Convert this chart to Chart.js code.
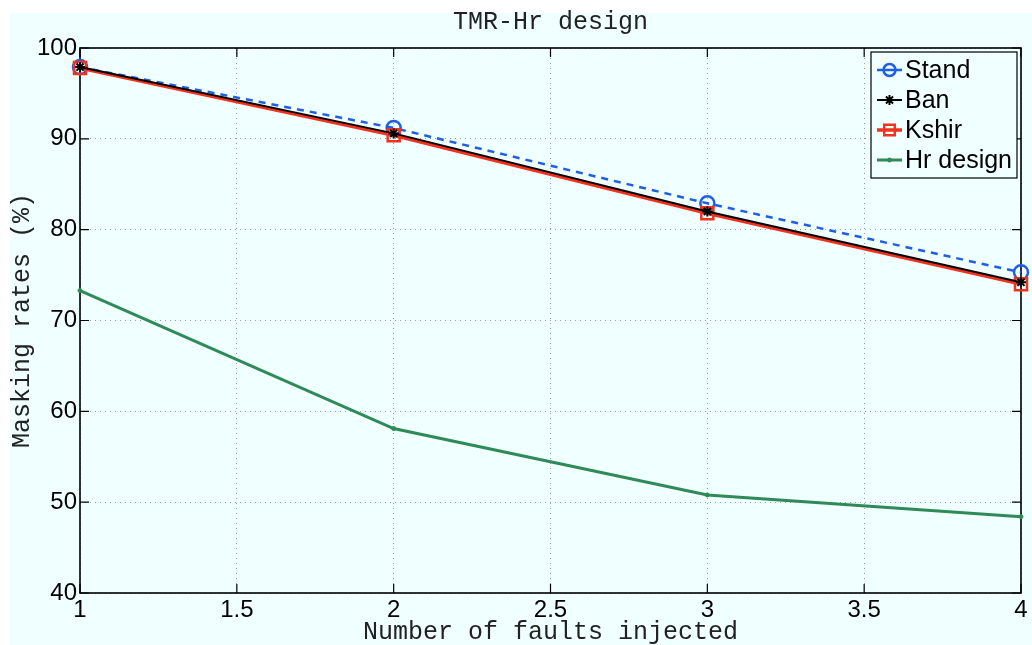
<!DOCTYPE html>
<html lang="en">
<head>
<meta charset="UTF-8">
<title>TMR-Hr design</title>
<style>
    body {
        margin: 0;
        background-color: #fff;
        overflow: hidden;
    }
</style>
</head>
<body>
<canvas id="chart" width="1032" height="645"></canvas>

<script src="https://cdn.jsdelivr.net/npm/chart.js"></script>
<script>
    // dati
    var faultsInjected = [1, 2, 3, 4];
    var xTicks = [1, 1.5, 2, 2.5, 3, 3.5, 4];
    var yTicks = [40, 50, 60, 70, 80, 90, 100];
    var standRates = [97.9, 91.2, 82.9, 75.3];
    var banRates = [97.9, 90.6, 82.0, 74.2];
    var kshirRates = [97.8, 90.4, 81.8, 74.0];
    var hrDesignRates = [73.3, 58.1, 50.8, 48.4];

    var titleText = 'TMR-Hr design';
    var xLabel = 'Number of faults injected';
    var yLabel = 'Masking rates (%)';
    var monoFont = '"Liberation Mono", "DejaVu Sans Mono", monospace';
    var sansFont = '"Liberation Sans", Arial, sans-serif';
    var bgColor = '#f0ffff';

    function points(values) {
        return faultsInjected.map(function(x, i) { return {x: x, y: values[i]}; });
    }

    // sfondo della figura
    var backgroundPlugin = {
        id: 'figureBackground',
        beforeDraw: function(chart) {
            var ctx = chart.ctx;
            ctx.save();
            ctx.fillStyle = '#fff';
            ctx.fillRect(0, 0, chart.width, chart.height);
            ctx.fillStyle = bgColor;
            ctx.fillRect(10, 13, chart.width - 10, chart.height - 13);
            ctx.restore();
        }
    };

    // cornice, tacche interne e testi degli assi (stile MATLAB)
    var framePlugin = {
        id: 'frame',
        beforeDatasetsDraw: function(chart) {
            var ctx = chart.ctx;
            var a = chart.chartArea;
            var xs = chart.scales.x, ys = chart.scales.y;
            var tick = 9;
            ctx.save();
            ctx.strokeStyle = '#000';
            ctx.lineWidth = 1.2;
            ctx.beginPath();
            xTicks.forEach(function(v) {
                var px = xs.getPixelForValue(v);
                ctx.moveTo(px, a.bottom); ctx.lineTo(px, a.bottom - tick);
                ctx.moveTo(px, a.top); ctx.lineTo(px, a.top + tick);
            });
            yTicks.forEach(function(v) {
                var py = ys.getPixelForValue(v);
                ctx.moveTo(a.left, py); ctx.lineTo(a.left + tick, py);
                ctx.moveTo(a.right, py); ctx.lineTo(a.right - tick, py);
            });
            ctx.stroke();
            ctx.lineWidth = 1.6;
            ctx.strokeRect(a.left, a.top, a.right - a.left, a.bottom - a.top);
            ctx.restore();
        },
        afterDraw: function(chart) {
            var ctx = chart.ctx;
            var a = chart.chartArea;
            ctx.save();
            ctx.fillStyle = '#222';
            ctx.font = '25px ' + monoFont;
            ctx.textAlign = 'center';
            ctx.textBaseline = 'middle';
            ctx.fillText(titleText, (a.left + a.right) / 2, 22);
            ctx.fillText(xLabel, (a.left + a.right) / 2, 632);
            ctx.translate(22, (a.top + a.bottom) / 2);
            ctx.rotate(-Math.PI / 2);
            ctx.fillText(yLabel, 0, 0);
            ctx.restore();
        }
    };

    // legenda dentro l'area del grafico
    var legendPlugin = {
        id: 'innerLegend',
        afterDraw: function(chart) {
            var ctx = chart.ctx;
            var a = chart.chartArea;
            var boxW = 146, boxH = 126;
            var x0 = a.right - 4 - boxW, y0 = a.top + 4;
            ctx.save();
            ctx.fillStyle = bgColor;
            ctx.fillRect(x0, y0, boxW, boxH);
            ctx.strokeStyle = '#000';
            ctx.lineWidth = 1.2;
            ctx.strokeRect(x0, y0, boxW, boxH);
            chart.data.datasets.forEach(function(ds, i) {
                var cy = y0 + 18 + i * 30;
                ctx.save();
                ctx.strokeStyle = ds.borderColor;
                ctx.lineWidth = ds.borderWidth;
                ctx.beginPath();
                ctx.moveTo(x0 + 6, cy);
                ctx.lineTo(x0 + 31, cy);
                ctx.stroke();
                ctx.strokeStyle = ds.pointBorderColor;
                ctx.fillStyle = ds.pointBackgroundColor;
                ctx.lineWidth = ds.pointBorderWidth;
                Chart.helpers.drawPoint(ctx, {
                    pointStyle: ds.pointStyle,
                    radius: ds.legendRadius,
                    borderWidth: ds.pointBorderWidth,
                    rotation: 0
                }, x0 + 18.5, cy);
                ctx.restore();
                ctx.fillStyle = '#000';
                ctx.font = '25px ' + sansFont;
                ctx.textAlign = 'left';
                ctx.textBaseline = 'middle';
                ctx.fillText(ds.label, x0 + 34, cy + 1);
            });
            ctx.restore();
        }
    };

    var chart = new Chart(document.getElementById('chart').getContext('2d'), {
        type: 'line',
        data: {
            datasets: [{
                label: 'Stand',
                data: points(standRates),
                borderColor: '#1f5fe6',
                borderWidth: 2.5,
                borderDash: [7, 6],
                pointStyle: 'circle',
                pointRadius: 7,
                legendRadius: 6,
                pointBorderWidth: 2.5,
                pointBackgroundColor: 'rgba(0,0,0,0)',
                pointBorderColor: '#1f5fe6',
                order: 4
            }, {
                label: 'Ban',
                data: points(banRates),
                borderColor: '#000',
                borderWidth: 2,
                pointStyle: 'star',
                pointRadius: 5,
                legendRadius: 5,
                pointBorderWidth: 2,
                pointBackgroundColor: '#000',
                pointBorderColor: '#000',
                order: 1
            }, {
                label: 'Kshir',
                data: points(kshirRates),
                borderColor: '#f0321e',
                borderWidth: 3.5,
                pointStyle: 'rect',
                pointRadius: 8.5,
                legendRadius: 7.5,
                pointBorderWidth: 2.5,
                pointBackgroundColor: 'rgba(0,0,0,0)',
                pointBorderColor: '#f0321e',
                order: 2
            }, {
                label: 'Hr design',
                data: points(hrDesignRates),
                borderColor: '#2e8b57',
                borderWidth: 3,
                pointStyle: 'circle',
                pointRadius: 2,
                legendRadius: 2,
                pointBorderWidth: 1,
                pointBackgroundColor: '#2e8b57',
                pointBorderColor: '#2e8b57',
                order: 3
            }]
        },
        options: {
            responsive: false,
            animation: false,
            clip: false,
            layout: {
                padding: {top: 48, right: 10, left: 10, bottom: 0}
            },
            plugins: {
                legend: {display: false},
                title: {display: false},
                tooltip: {enabled: false}
            },
            scales: {
                x: {
                    type: 'linear',
                    min: 1,
                    max: 4,
                    afterFit: function(scale) { scale.height = 52; },
                    afterBuildTicks: function(scale) {
                        scale.ticks = xTicks.map(function(v) { return {value: v}; });
                    },
                    ticks: {
                        color: '#000',
                        padding: 3,
                        maxRotation: 0,
                        font: {family: sansFont, size: 24},
                        callback: function(v) { return String(v); }
                    },
                    grid: {
                        color: '#9a9a9a',
                        lineWidth: 1,
                        drawTicks: false
                    },
                    border: {display: false, dash: [1, 4]}
                },
                y: {
                    min: 40,
                    max: 100,
                    afterFit: function(scale) { scale.width = 70; },
                    afterBuildTicks: function(scale) {
                        scale.ticks = yTicks.map(function(v) { return {value: v}; });
                    },
                    ticks: {
                        color: '#000',
                        padding: 3,
                        font: {family: sansFont, size: 24},
                        callback: function(v) { return String(v); }
                    },
                    grid: {
                        color: '#9a9a9a',
                        lineWidth: 1,
                        drawTicks: false
                    },
                    border: {display: false, dash: [1, 4]}
                }
            }
        },
        plugins: [backgroundPlugin, framePlugin, legendPlugin]
    });
</script>
</body>
</html>
